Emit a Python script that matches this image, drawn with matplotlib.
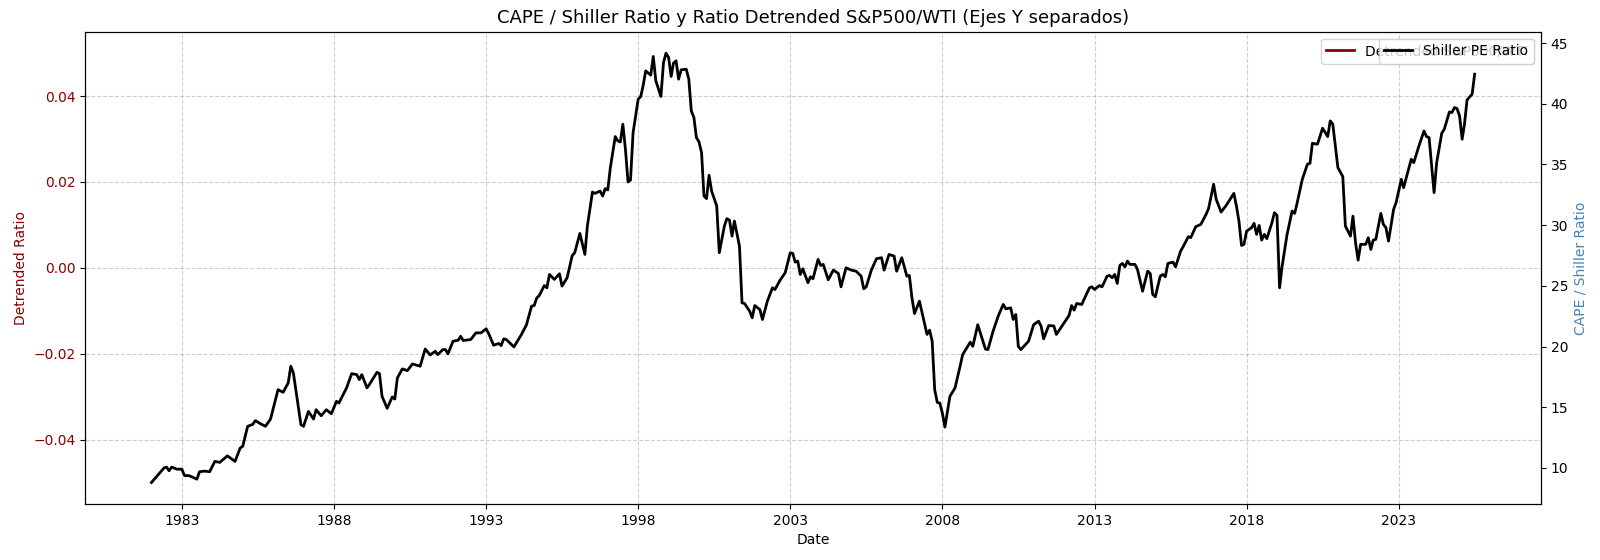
import pandas as pd
import matplotlib
matplotlib.use("Agg")
import matplotlib.pyplot as plt
import matplotlib.dates as mdates

# Shiller PE (CAPE), one line per year
cape_dates = [
    "1982-01", "1982-06", "1982-07", "1982-08", "1982-09", "1982-11",
    "1983-01", "1983-02", "1983-04", "1983-07", "1983-08", "1983-10", "1983-12",
    "1984-02", "1984-04", "1984-07", "1984-10", "1984-12",
    "1985-01", "1985-03", "1985-05", "1985-06", "1985-08", "1985-10", "1985-12",
    "1986-03", "1986-05", "1986-07", "1986-08", "1986-09", "1986-12",
    "1987-01", "1987-03", "1987-05", "1987-06", "1987-08", "1987-10", "1987-12",
    "1988-02", "1988-03", "1988-06", "1988-08", "1988-10", "1988-11", "1988-12",
    "1989-02", "1989-03", "1989-06", "1989-07", "1989-08", "1989-10", "1989-12",
    "1990-01", "1990-02", "1990-04", "1990-06", "1990-08", "1990-11",
    "1991-01", "1991-03", "1991-05", "1991-06", "1991-08", "1991-09", "1991-10", "1991-12",
    "1992-02", "1992-03", "1992-04", "1992-07", "1992-09", "1992-11",
    "1993-01", "1993-02", "1993-04", "1993-06", "1993-07", "1993-08", "1993-09", "1993-12",
    "1994-03", "1994-05", "1994-07", "1994-08", "1994-09", "1994-10", "1994-12",
    "1995-01", "1995-02", "1995-04", "1995-06", "1995-07", "1995-09", "1995-11", "1995-12",
    "1996-02", "1996-04", "1996-05", "1996-07", "1996-08", "1996-10", "1996-11", "1996-12",
    "1997-01", "1997-02", "1997-04", "1997-05", "1997-06", "1997-07", "1997-08", "1997-09", "1997-10", "1997-11",
    "1998-01", "1998-02", "1998-03", "1998-04", "1998-06", "1998-07", "1998-08", "1998-10", "1998-11", "1998-12",
    "1999-01", "1999-02", "1999-03", "1999-04", "1999-05", "1999-06", "1999-08", "1999-09", "1999-10", "1999-11", "1999-12",
    "2000-01", "2000-02", "2000-03", "2000-04", "2000-05", "2000-06", "2000-08", "2000-09", "2000-11", "2000-12",
    "2001-01", "2001-02", "2001-03", "2001-05", "2001-06", "2001-07", "2001-09", "2001-10", "2001-11",
    "2002-01", "2002-02", "2002-04", "2002-06", "2002-07", "2002-09", "2002-11",
    "2003-01", "2003-02", "2003-03", "2003-04", "2003-05", "2003-06", "2003-08", "2003-09", "2003-10", "2003-12",
    "2004-01", "2004-02", "2004-04", "2004-06", "2004-08", "2004-09", "2004-11",
    "2005-01", "2005-03", "2005-05", "2005-06", "2005-07", "2005-09", "2005-11",
    "2006-01", "2006-02", "2006-04", "2006-06", "2006-07", "2006-09", "2006-11", "2006-12",
    "2007-01", "2007-02", "2007-04", "2007-07", "2007-08", "2007-09", "2007-10", "2007-11", "2007-12",
    "2008-01", "2008-02", "2008-04", "2008-06", "2008-08", "2008-09", "2008-12",
    "2009-01", "2009-03", "2009-06", "2009-07", "2009-09", "2009-11",
    "2010-01", "2010-02", "2010-04", "2010-05", "2010-06", "2010-07", "2010-08", "2010-11",
    "2011-01", "2011-03", "2011-04", "2011-05", "2011-07", "2011-09", "2011-10",
    "2012-01", "2012-03", "2012-04", "2012-05", "2012-06", "2012-08", "2012-09", "2012-11", "2012-12",
    "2013-01", "2013-03", "2013-04", "2013-06", "2013-07", "2013-08", "2013-09", "2013-10", "2013-11", "2013-12",
    "2014-01", "2014-02", "2014-03", "2014-05", "2014-06", "2014-08", "2014-10", "2014-11", "2014-12",
    "2015-01", "2015-03", "2015-04", "2015-05", "2015-06", "2015-08", "2015-09", "2015-11", "2015-12",
    "2016-02", "2016-03", "2016-05", "2016-07", "2016-09", "2016-10", "2016-12",
    "2017-01", "2017-03", "2017-05", "2017-08", "2017-09", "2017-10", "2017-11", "2017-12",
    "2018-01", "2018-03", "2018-04", "2018-05", "2018-06", "2018-07", "2018-08", "2018-09", "2018-11", "2018-12",
    "2019-01", "2019-02", "2019-03", "2019-05", "2019-07", "2019-08", "2019-09", "2019-11",
    "2020-01", "2020-02", "2020-03", "2020-05", "2020-07", "2020-09", "2020-10", "2020-11",
    "2021-01", "2021-03", "2021-04", "2021-06", "2021-07", "2021-08", "2021-09", "2021-10", "2021-12",
    "2022-01", "2022-02", "2022-03", "2022-04", "2022-06", "2022-07", "2022-08", "2022-09", "2022-11", "2022-12",
    "2023-01", "2023-02", "2023-03", "2023-05", "2023-06", "2023-07", "2023-09", "2023-11", "2023-12",
    "2024-01", "2024-03", "2024-04", "2024-06", "2024-07", "2024-09", "2024-10", "2024-11", "2024-12",
    "2025-01", "2025-02", "2025-03", "2025-04", "2025-06", "2025-07",
]
cape_values = [
    8.8, 10.0, 10.07, 9.77, 10.07, 9.9,
    9.9, 9.38, 9.36, 9.08, 9.69, 9.74, 9.69,
    10.54, 10.46, 11.0, 10.54, 11.64,
    11.78, 13.43, 13.59, 13.9, 13.65, 13.43, 14.03,
    16.45, 16.23, 17.0, 18.38, 17.83, 13.56,
    13.43, 14.66, 14.03, 14.8, 14.3, 14.8, 14.47,
    15.49, 15.35, 16.6, 17.77, 17.69, 17.28, 17.69,
    16.6, 16.87, 17.88, 17.77, 15.9, 14.91, 15.85,
    15.68, 17.42, 18.16, 18.02, 18.57, 18.38,
    19.8, 19.31, 19.61, 19.34, 19.75, 19.75, 19.4, 20.44,
    20.52, 20.85, 20.5, 20.58, 21.13, 21.13,
    21.46, 21.07, 20.11, 20.25, 20.08, 20.64, 20.58, 19.97,
    20.99, 21.8, 23.33, 23.38, 24.0, 24.2, 25.03,
    24.84, 25.94, 25.53, 26.0, 24.98, 25.67, 27.5, 27.73,
    29.32, 27.59, 29.93, 32.73, 32.62, 32.81, 32.4, 33.01,
    32.9, 34.74, 37.3, 36.94, 36.86, 38.32, 36.25, 33.56, 33.72, 37.63,
    40.38, 40.6, 41.48, 42.71, 42.36, 43.9, 41.89, 40.6, 43.4, 44.17,
    43.82, 42.25, 43.35, 43.54, 42.03, 42.8, 42.85, 42.03, 39.41, 38.87, 37.22,
    36.86, 35.98, 32.4, 32.19, 34.11, 32.81, 31.58, 27.73, 29.93, 30.54,
    30.42, 29.1, 30.34, 28.28, 23.6, 23.55, 22.91, 22.37, 23.38,
    23.05, 22.23, 23.74, 24.84, 24.7, 25.47, 26.08,
    27.73, 27.67, 26.96, 27.04, 25.94, 26.41, 25.26, 25.75, 25.59, 27.18,
    26.68, 26.77, 25.5, 26.3, 26.02, 24.92, 26.49,
    26.3, 26.21, 25.8, 24.76, 24.92, 26.3, 27.24,
    27.32, 26.3, 27.59, 27.45, 26.21, 27.32, 25.8, 25.86,
    24.02, 22.72, 23.74, 21.0, 21.35, 20.44, 16.45, 15.4, 15.35,
    14.53, 13.37, 15.9, 16.59, 18.38, 19.34, 20.36,
    20.02, 21.8, 19.8, 19.75, 21.26, 22.5,
    23.47, 23.11, 23.19, 22.23, 22.64, 20.02, 19.75, 20.44,
    21.8, 22.09, 21.68, 20.64, 21.73, 21.7, 21.0,
    21.95, 22.56, 23.38, 23.0, 23.55, 23.47, 23.94, 24.84, 24.92,
    24.7, 25.03, 24.92, 25.8, 25.86, 25.67, 25.94, 25.2, 26.68, 26.85,
    26.57, 27.04, 26.77, 26.77, 26.35, 24.56, 26.21, 26.02, 24.3,
    24.1, 25.8, 25.94, 25.75, 26.85, 26.96, 26.57, 27.87, 28.22,
    29.05, 28.97, 29.88, 30.07, 30.89, 31.36, 33.37,
    32.13, 31.08, 31.63, 32.62, 31.58, 30.34, 28.33, 28.42,
    29.51, 29.79, 30.15, 29.24, 29.98, 28.77, 29.24, 28.89, 30.2, 31.03,
    30.81, 24.84, 26.5, 29.2, 31.17, 30.97, 31.86, 33.78,
    35.02, 35.1, 36.75, 36.67, 37.99, 37.3, 38.59, 38.32,
    34.74, 34.0, 29.93, 29.1, 30.75, 28.56, 27.12, 28.42, 28.42,
    28.97, 28.0, 28.77, 28.83, 30.97, 30.07, 29.79, 28.69, 31.3, 31.86,
    32.81, 33.78, 33.09, 34.66, 35.43, 35.15, 36.53, 37.76, 37.3,
    37.22, 32.68, 35.15, 37.57, 37.9, 39.33, 39.28, 39.69, 39.61,
    39.0, 37.08, 38.32, 40.32, 40.79, 42.44,
]
# detrended S&P500/WTI series: nothing visible on the chart
detrended_dates = []
detrended_values = []
detrended_ylim = (-0.055, 0.055)

tick_years = [1983, 1988, 1993, 1998, 2003, 2008, 2013, 2018, 2023]

dates = pd.to_datetime(cape_dates, format="%Y-%m")

fig, ax1 = plt.subplots(figsize=(16, 5.6), dpi=100)
fig.subplots_adjust(left=0.0533, right=0.963, bottom=0.1, top=0.9434)

ax2 = ax1.twinx()
ax2.plot(dates, cape_values, color="black", lw=2, label="Shiller PE Ratio")

ax1.plot(pd.to_datetime(detrended_dates), detrended_values, color="darkred",
         lw=2, label="Detrended S&P500/WTI")
ax1.set_ylim(*detrended_ylim)
ax1.set_xlabel("Date")
ax1.set_ylabel("Detrended Ratio", color="darkred")
ax1.tick_params(axis="y", labelcolor="darkred")
ax1.grid(True, linestyle="--", alpha=0.6)
ax1.legend(loc="upper right")

ax1.set_xticks(pd.to_datetime([f"{y}-01-01" for y in tick_years]))
ax1.xaxis.set_major_formatter(mdates.DateFormatter("%Y"))

ax2.set_ylabel("CAPE / Shiller Ratio", color="steelblue")
ax2.legend(loc="upper right")

ax1.set_title("CAPE / Shiller Ratio y Ratio Detrended S&P500/WTI (Ejes Y separados)",
              fontsize=13)

fig.savefig("out.png", dpi=100)
